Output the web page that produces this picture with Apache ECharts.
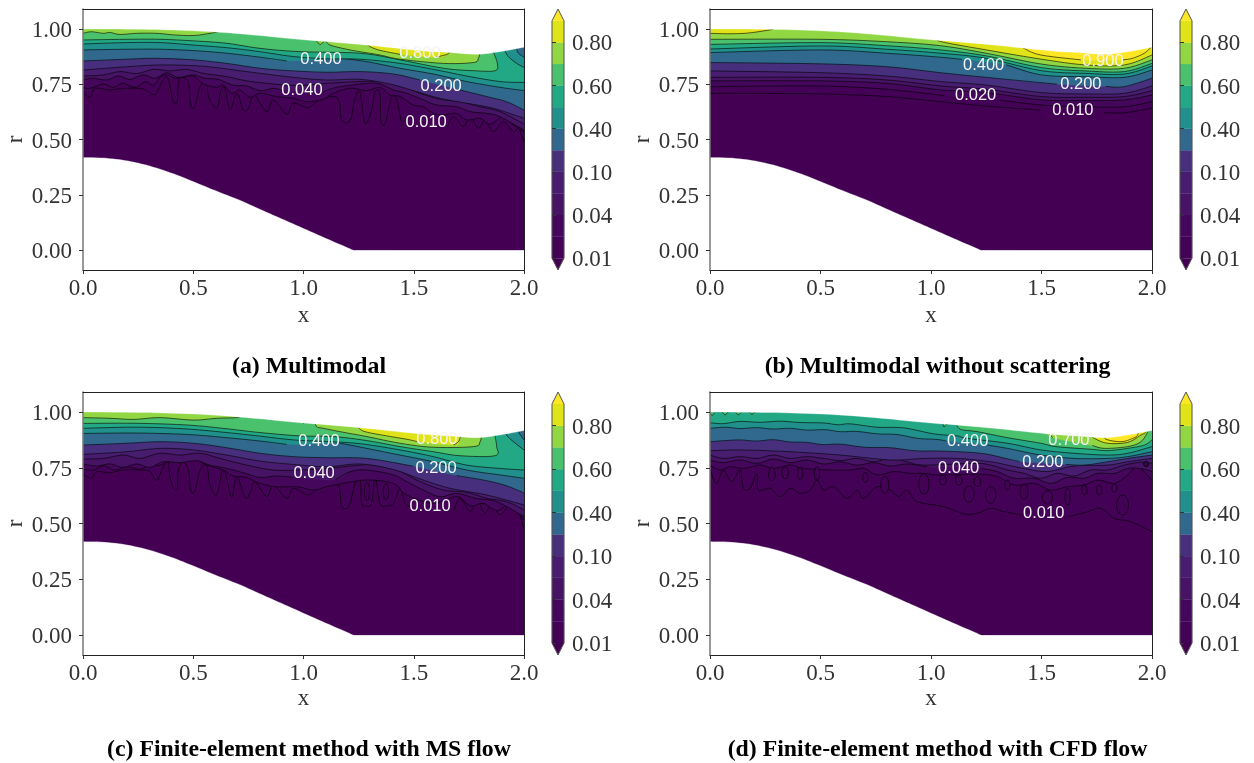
<!DOCTYPE html>
<html><head><meta charset="utf-8">
<script src="https://cdn.jsdelivr.net/npm/echarts@6/dist/echarts.min.js"></script>
<style>html,body{margin:0;background:#fff}#c{width:1254px;height:763px}</style></head>
<body><div id="c"></div>
<script>
// Filled-contour colours, one per band between levels (viridis sampled)
const levels = [0.01,0.02,0.04,0.07,0.10,0.20,0.40,0.50,0.60,0.70,0.80,0.90];
const underColor = '#440154';
const bandColors = ['#440256','#45075b','#471365','#481c6e','#472f7d','#31688e','#21908c','#22a884','#4ac16d','#90d743','#dfe318','#fde725'];
const cbTickPos = [0,2,4,6,8,10];
const cbTickLabels = ['0.01','0.04','0.10','0.40','0.60','0.80'];
const rTicks = [0,0.25,0.5,0.75,1];
const captions = ['(a) Multimodal','(b) Multimodal without scattering','(c) Finite-element method with MS flow','(d) Finite-element method with CFD flow'];

// Domain walls (x, r)
const wallTop = [[0,1],[.2,.999],[.4,.995],[.6,.986],[.8,.97],[.95,.955],[1.1,.943],[1.256,.93],[1.4,.915],[1.55,.90],[1.664,.893],[1.787,.885],[1.89,.897],[2,.917]];
const wallBottom = [[0,.42],[.1,.417],[.2,.405],[.3,.382],[.4,.35],[.485,.317],[.6,.27],[.712,.226],[.8,.187],[.9,.143],[1,.099],[1.1,.055],[1.2,.012],[1.225,.001],[1.25,0],[1.4,0],[2,0]];

// Panel (a) contours: level index -> (x, r) points, null = gap beside a label
const a_L0 = [[0,.716],[.032,.691],[.054,.731],[.122,.724],[.183,.731],[.259,.731],[.296,.716],[.327,.704],[.364,.769],[.383,.781],[.395,.739],[.410,.671],[.428,.674],[.432,.754],[.448,.784],[.478,.754],[.488,.656],[.508,.651],[.531,.739],[.561,.754],[.569,.694],[.606,.641],[.626,.724],[.644,.731],[.667,.633],[.697,.709],[.727,.633],[.750,.641],[.776,.701],[.833,.626],[.863,.679],[.924,.615],[.954,.664],[1.022,.645],[1.075,.682],[1.136,.694],[1.163,.671],[1.173,.588],[1.211,.585],[1.234,.686],[1.256,.716],[1.279,.573],[1.309,.633],[1.325,.716],[1.347,.709],[1.350,.588],[1.370,.573],[1.400,.694],[1.423,.679],[1.445,.581],[1.468,.603],null,[1.650,.550],[1.680,.603],[1.725,.558],[1.756,.603],[1.793,.550],[1.823,.588],[1.861,.535],[1.906,.581],[1.952,.535],[1.975,.550],[2,.490]];
const a_L1 = [[0,.736],[.032,.731],[.092,.751],[.137,.736],[.183,.754],[.236,.736],[.282,.761],[.319,.746],[.349,.781],[.380,.792],[.417,.777],[.455,.781],[.500,.787],[.546,.751],[.606,.736],[.636,.746],[.674,.709],[.712,.724],[.757,.691],[.803,.709],[.878,.694],[.954,.686],[1.015,.671],[1.090,.682],[1.136,.709],[1.211,.732],[1.287,.721],[1.347,.736],[1.392,.701],[1.438,.694],[1.498,.656],[1.544,.648],[1.589,.618],[1.635,.611],[1.695,.618],[1.740,.588],[1.801,.596],[1.846,.570],[1.906,.603],[1.952,.566],[2,.535]];
const a_L2 = [[0,.769],[.047,.777],[.107,.769],[.160,.787],[.213,.772],[.274,.792],[.325,.777],[.380,.802],[.432,.781],[.500,.792],[.552,.777],[.612,.772],[.680,.746],[.742,.742],[.803,.721],[.863,.731],[.909,.721],null,[1.090,.716],[1.151,.736],[1.287,.754],[1.347,.751],[1.408,.724],[1.468,.709],[1.544,.679],[1.605,.656],[1.695,.648],[1.756,.626],[1.831,.618],[1.891,.603],[2,.543]];
const a_L3 = [[0,.787],[.092,.792],[.168,.807],[.243,.798],[.319,.817],[.395,.810],[.470,.817],[.546,.799],[.652,.784],[.742,.765],[.833,.754],[.924,.746],[1.015,.746],[1.105,.754],[1.256,.762],[1.363,.762],[1.438,.746],[1.528,.709],[1.620,.682],[1.710,.671],[1.801,.648],[1.891,.626],[2,.570]];
const a_L4 = [[0,.814],[.198,.829],[.349,.837],[.500,.834],[.606,.825],[.742,.807],[.954,.781],[1.105,.769],[1.256,.772],[1.392,.751],[1.498,.721],[1.620,.686],[1.740,.664],[1.861,.641],[2,.596]];
const a_L5 = [[0,.855],[.198,.863],[.334,.867],[.500,.860],[.652,.844],[.803,.822],[.939,.811],[1.105,.804],[1.257,.807],[1.408,.796],[1.528,.769],null,[1.710,.724],[1.831,.694],[1.921,.671],[2,.633]];
const a_L6 = [[0,.905],[.198,.908],[.349,.908],[.500,.902],[.652,.890],[.803,.872],[.924,.855],null,[1.173,.867],[1.287,.852],[1.438,.822],[1.589,.796],[1.740,.762],[1.891,.736],[2,.721]];
const a_L7 = [[0,.932],[.198,.938],[.349,.938],[.500,.927],[.652,.915],[.803,.897],[.954,.875],[1.105,.865],[1.257,.863],[1.438,.844],[1.620,.811],[1.740,.787],[1.891,.762],[2,.758]];
const a_L8 = [[0,.950],[.198,.953],[.349,.953],[.500,.946],[.652,.935],[.803,.912],[.984,.897],[1.257,.890],[1.438,.860],[1.635,.822],[1.771,.811],[1.869,.811],[1.879,.844],[1.861,.897],[1.853,.93]];
const a_L9a = [[0,.980],[.038,.987],[.092,.980],[.122,.984],[.168,.975],[.243,.980],[.334,.980],[.410,.973],[.500,.970],[.576,.980],[.633,.992]];
const a_L9b = [[1.058,.96],[1.062,.942],[1.078,.930],[1.098,.947],[1.120,.927],[1.196,.908],[1.256,.897],[1.347,.882],[1.438,.863],[1.635,.844],[1.771,.848],[1.793,.867],[1.801,.897],[1.803,.93]];
const a_L10 = [[1.279,.94],[1.300,.921],[1.347,.903],[1.438,.885],null,[1.60,.872],[1.650,.885],[1.668,.90]];
const a_C5 = [[1.910,.908],[1.929,.875],[1.967,.844],[2,.826]];
const a_C4 = [[1.967,.908],[1.975,.890],[2,.872]];
const a_labels = [[1.079,.864,'0.400'],[.993,.724,'0.040'],[1.528,.891,'0.800'],[1.624,.738,'0.200'],[1.556,.579,'0.010']];

// Panel (b) contours
const b_L0 = [[0,.709],[.5,.706],[.8,.694],[1.043,.671],[1.25,.651],[1.497,.633],null,[1.784,.621],[1.875,.621],[2,.641]];
const b_L1 = [[0,.739],[.5,.742],[.8,.727],[1.06,.699],null,[1.31,.678],[1.5,.656],[1.7,.648],[1.875,.648],[2,.671]];
const b_L2 = [[0,.765],[.5,.765],[.8,.754],[1.043,.724],[1.25,.712],[1.5,.679],[1.7,.676],[1.875,.679],[2,.701]];
const b_L3 = [[0,.781],[.5,.781],[.8,.769],[1.043,.742],[1.25,.727],[1.5,.694],[1.7,.691],[1.875,.694],[2,.721]];
const b_L4 = [[0,.810],[.5,.802],[.8,.787],[1.043,.762],[1.25,.746],[1.5,.712],[1.7,.706],[1.875,.709],[2,.742]];
const b_L5 = [[0,.848],[.5,.842],[.8,.829],[1.043,.802],[1.25,.781],[1.57,.75],null,[1.79,.74],[1.875,.739],[2,.777]];
const b_L6 = [[0,.893],[.5,.905],[.8,.890],[1.043,.872],[1.14,.862],null,[1.34,.838],[1.5,.792],[1.7,.784],[1.875,.781],[2,.814]];
const b_L7 = [[0,.909],[.5,.923],[.8,.908],[1.043,.890],[1.25,.867],[1.5,.811],[1.7,.799],[1.875,.796],[2,.832]];
const b_L8 = [[0,.930],[.5,.938],[.8,.924],[1.043,.905],[1.25,.878],[1.5,.825],[1.7,.810],[1.875,.807],[2,.844]];
const b_L9 = [[0,.953],[.5,.953],[.8,.942],[1.043,.924],[1.25,.890],[1.5,.841],[1.7,.822],[1.875,.822],[2,.860]];
const b_L10a = [[0,.98],[.09,.978],[.18,.982],[.286,.998]];
const b_L10b = [[1.035,.96],[1.043,.943],[1.25,.905],[1.5,.863],[1.7,.837],[1.875,.837],[2,.882]];
const b_L11 = [[1.40,.93],[1.421,.912],[1.497,.882],[1.678,.860],null,[1.867,.860],[1.912,.867],[1.965,.890],[1.995,.917],[1.995,.93]];
const b_labels = [[1.238,.837,'0.400'],[1.202,.697,'0.020'],[1.778,.855,'0.900'],[1.678,.747,'0.200'],[1.642,.633,'0.010']];

// Panel (c) contours
const c_L0 = [[0,.72],[.039,.703],[.062,.733],[.122,.728],[.183,.740],[.259,.740],[.304,.733],[.334,.692],[.357,.740],[.383,.782],[.395,.707],[.410,.658],[.428,.658],[.432,.740],[.452,.777],[.478,.740],[.488,.650],[.508,.646],[.531,.740],[.561,.762],[.576,.673],[.606,.628],[.629,.725],[.644,.733],[.674,.617],[.697,.710],[.735,.617],[.757,.635],[.780,.688],[.833,.620],[.863,.673],[.924,.613],[.954,.658],[1.022,.628],[1.075,.665],[1.136,.695],[1.163,.658],[1.173,.576],[1.206,.579],[1.236,.688],[1.257,.703],[1.264,.590],[1.279,.579],[1.309,.590],[1.325,.713],[1.347,.590],[1.378,.579],[1.408,.590],[1.438,.658],[1.461,.590],[1.484,.576],null,[1.680,.553],[1.710,.613],[1.756,.553],[1.786,.606],[1.823,.546],[1.854,.591],[1.891,.538],[1.936,.583],[1.975,.546],[2,.479]];
const c_L1 = [[0,.743],[.047,.740],[.092,.758],[.145,.740],[.198,.755],[.259,.743],[.304,.762],[.349,.762],[.410,.785],[.500,.792],[.561,.762],[.636,.740],[.682,.713],[.742,.707],[.803,.680],[.878,.665],[.969,.665],[1.045,.650],[1.105,.665],[1.181,.680],[1.287,.695],[1.408,.680],[1.468,.628],[1.589,.591],[1.695,.621],[1.756,.580],[1.816,.590],[1.876,.558],[1.936,.583],[2,.516]];
const c_L2 = [[0,.767],[.062,.758],[.122,.767],[.183,.752],[.243,.767],[.304,.752],[.364,.777],[.440,.773],[.516,.782],[.576,.762],[.652,.747],[.727,.728],[.803,.707],[.878,.713],[.954,.707],null,[1.143,.695],[1.211,.732],[1.287,.740],[1.408,.718],[1.468,.688],[1.544,.650],[1.620,.620],[1.695,.635],[1.786,.612],[1.876,.598],[2,.531]];
const c_L3 = [[0,.789],[.092,.792],[.183,.807],[.259,.792],[.349,.815],[.440,.807],[.531,.815],[.621,.792],[.742,.762],[.863,.740],[.984,.740],[1.105,.747],[1.257,.762],[1.317,.762],[1.423,.740],[1.528,.688],[1.635,.650],[1.740,.640],[1.831,.613],[1.921,.598],[2,.561]];
const c_L4 = [[0,.810],[.198,.822],[.349,.837],[.500,.830],[.652,.807],[.803,.780],[.954,.765],[1.105,.755],[1.257,.767],[1.408,.742],[1.528,.700],[1.664,.658],[1.831,.628],[2,.583]];
const c_L5 = [[0,.852],[.198,.860],[.349,.867],[.500,.860],[.652,.840],[.803,.815],[.954,.800],[1.105,.795],[1.287,.792],[1.498,.757],null,[1.695,.715],[1.831,.692],[1.921,.669],[2,.637]];
const c_L6 = [[0,.904],[.198,.906],[.349,.904],[.500,.898],[.652,.885],[.803,.870],[.924,.855],null,[1.160,.860],[1.211,.852],[1.438,.807],[1.589,.777],[1.740,.740],[1.891,.718],[2,.703]];
const c_L7 = [[0,.927],[.198,.932],[.349,.930],[.500,.922],[.652,.908],[.803,.892],[.954,.875],[1.105,.868],[1.257,.858],[1.438,.830],[1.589,.800],[1.740,.762],[1.891,.747],[2,.740]];
const c_L8 = [[0,.949],[.198,.950],[.349,.947],[.500,.940],[.652,.925],[.803,.908],[.984,.893],[1.136,.890],[1.287,.872],[1.438,.845],[1.589,.822],[1.710,.804],[1.869,.804],[1.876,.845],[1.869,.890],[1.862,.93]];
const c_L9a = [[0,.975],[.122,.972],[.229,.967],[.349,.975],[.500,.964],[.606,.972],[.705,.976],[.71,.99]];
const c_L9b = [[1.050,.96],[1.060,.934],[1.090,.927],[1.166,.912],[1.287,.890],[1.438,.860],[1.589,.842],[1.771,.845],[1.801,.867],[1.811,.92]];
const c_L9c = [[.99,.965],[1.0,.950],[1.015,.965]];
const c_L10 = [[1.24,.95],[1.249,.931],[1.279,.912],[1.378,.893],[1.468,.878],[1.514,.868],null,[1.680,.852],[1.705,.87],[1.715,.91]];
const c_C5 = [[1.915,.93],[1.921,.897],[1.952,.867],[2,.830]];
const c_C4 = [[1.97,.94],[1.975,.912],[2,.875]];
const c_islands = [[1.288,.643,.012,.04],[1.374,.643,.012,.035]];
const c_labels = [[1.07,.87,'0.400'],[1.048,.726,'0.040'],[1.605,.879,'0.800'],[1.601,.749,'0.200'],[1.574,.578,'0.010']];

// Panel (d) contours
const d_L0 = [[0,.740],[.030,.680],[.060,.740],[.098,.688],[.136,.740],[.151,.658],[.181,.658],[.212,.725],[.219,.650],[.272,.658],[.318,.620],[.363,.658],[.408,.635],[.454,.650],[.484,.695],[.514,.650],[.559,.665],[.620,.613],[.665,.650],[.696,.613],[.756,.665],[.816,.650],[.854,.620],[.892,.650],[.937,.598],[1.058,.576],[1.149,.543],[1.210,.546],[1.270,.568],[1.331,.553],[1.414,.538],null,[1.625,.531],[1.709,.553],[1.769,.568],[1.830,.523],[1.905,.508],[2,.463]];
const d_L1 = [[0,.762],[.045,.740],[.091,.755],[.151,.747],[.227,.762],[.287,.747],[.363,.762],[.423,.747],[.544,.740],[.635,.740],[.696,.747],[.756,.718],[.832,.733],[.907,.725],[.968,.725],[1.043,.718],[1.270,.718],[1.376,.673],[1.467,.680],[1.542,.650],[1.618,.665],[1.694,.673],[1.754,.695],[1.830,.680],[1.890,.718],[1.935,.755],[2,.695]];
const d_L2 = [[0,.785],[.060,.773],[.136,.785],[.212,.770],[.287,.789],[.363,.773],[.438,.785],[.514,.767],[.590,.777],[.665,.762],[.741,.773],[.816,.758],[.892,.767],[.983,.755],null,[1.225,.747],[1.300,.733],[1.376,.703],[1.467,.703],[1.542,.680],[1.618,.707],[1.694,.703],[1.754,.725],[1.830,.725],[1.890,.747],[1.950,.747],[2,.733]];
const d_L3 = [[0,.807],[.060,.792],[.136,.800],[.212,.792],[.287,.807],[.363,.792],[.438,.800],[.514,.792],[.590,.782],[.665,.792],[.741,.777],[.816,.792],[.892,.777],[.968,.762],[1.195,.770],[1.270,.762],[1.346,.740],[1.421,.725],[1.497,.703],[1.572,.725],[1.648,.713],[1.724,.740],[1.799,.740],[1.875,.762],[1.950,.775],[2,.770]];
const d_L4 = [[0,.826],[.136,.830],[.363,.822],[.590,.807],[.816,.785],[.968,.792],[1.119,.792],[1.270,.777],[1.346,.762],[1.421,.747],[1.527,.733],[1.648,.758],[1.799,.762],[1.890,.777],[2,.792]];
const d_L5 = [[0,.867],[.07,.872],[.136,.875],[.21,.870],[.287,.876],[.36,.866],[.438,.864],[.51,.854],[.590,.856],[.70,.842],[.816,.840],[.93,.826],[1.043,.825],[1.225,.815],[1.346,.790],[1.40,.778],null,[1.61,.765],[1.694,.762],[1.799,.777],[1.890,.792],[2,.807]];
const d_L6 = [[0,.927],[.07,.932],[.136,.926],[.21,.930],[.285,.924],[.363,.927],[.44,.919],[.52,.921],[.59,.912],[.665,.913],[.76,.902],[.847,.899],[.94,.882],[1.028,.877],[1.07,.87],null,[1.255,.852],[1.346,.837],[1.497,.807],[1.648,.792],[1.799,.792],[1.890,.800],[2,.822]];
const d_L7 = [[0,.952],[.060,.948],[.136,.958],[.227,.954],[.318,.959],[.408,.953],[.514,.951],[.580,.943],[.635,.947],[.756,.932],[.877,.929],[1.013,.902],[1.119,.893],[1.164,.882],[1.346,.860],[1.497,.830],[1.648,.815],[1.799,.807],[1.890,.815],[2,.845]];
const d_L8 = [[1.05,.965],[1.058,.934],[1.070,.945],[1.089,.949],[1.111,.949],[1.134,.922],[1.210,.912],[1.346,.885],[1.497,.860],[1.565,.845],[1.724,.833],[1.799,.827],[1.890,.837],[1.966,.852],[2,.875]];
const d_B1 = [[.0,.997],[.01,.985],[.02,.997]];
const d_B2 = [[.055,1.0],[.068,.988],[.082,1.0]];
const d_B3 = [[.115,1.0],[.128,.988],[.142,1.0]];
const d_B4 = [[.178,1.0],[.19,.99],[.202,1.0]];
const d_L9 = [[1.527,.915],[1.55,.885],null,[1.73,.85],[1.785,.837],[1.890,.845],[1.950,.867],[1.981,.912],[1.985,.93]];
const d_L10 = [[1.72,.90],[1.739,.882],[1.799,.860],[1.890,.864],[1.950,.897],[1.969,.907],[1.972,.93]];
const d_L11 = [[1.785,.90],[1.792,.878],[1.860,.867],[1.913,.882],[1.935,.897],[1.94,.93]];
const d_islands = [[.280,.722,.015,.03],[.340,.728,.015,.027],[.408,.725,.012,.027],[.484,.725,.012,.03],[.703,.707,.012,.022],[.791,.673,.018,.037],[.968,.677,.023,.045],[1.054,.695,.015,.022],[1.126,.695,.015,.022],[1.172,.632,.023,.037],[1.21,.688,.015,.022],[1.27,.628,.023,.037],[1.346,.673,.012,.022],[1.421,.643,.018,.033],[1.527,.617,.023,.03],[1.618,.620,.012,.037],[1.694,.650,.012,.022],[1.761,.650,.012,.022],[1.83,.658,.012,.018],[1.867,.583,.027,.045]];
const d_blob = [[1.973,.767,.012,.012]];
const d_labels = [[1.166,.87,'0.400'],[1.125,.749,'0.040'],[1.624,.874,'0.700'],[1.506,.776,'0.200'],[1.51,.547,'0.010']];

// Painting order inside each panel: [points, fill band]
const panels = [
 {curves:[[a_L0,0],[a_L1,1],[a_L2,2],[a_L3,3],[a_L4,4],[a_L5,5],[a_L6,6],[a_L7,7],[a_L8,8],[a_L9a,9],[a_L9b,9],[a_L10,10],[a_C5,6],[a_C4,5]],islands:[],labels:a_labels},
 {curves:[[b_L0,0],[b_L1,1],[b_L2,2],[b_L3,3],[b_L4,4],[b_L5,5],[b_L6,6],[b_L7,7],[b_L8,8],[b_L9,9],[b_L10a,10],[b_L10b,10],[b_L11,11]],islands:[],labels:b_labels},
 {curves:[[c_L0,0],[c_L1,1],[c_L2,2],[c_L3,3],[c_L4,4],[c_L5,5],[c_L6,6],[c_L7,7],[c_L8,8],[c_L9a,9],[c_L9b,9],[c_L9c,9],[c_L10,10],[c_C5,6],[c_C4,5]],islands:c_islands,labels:c_labels},
 {curves:[[d_L0,0],[d_L1,1],[d_L2,2],[d_L3,3],[d_L4,4],[d_L5,5],[d_L6,6],[d_L7,7],[d_B1,8],[d_B2,8],[d_B3,8],[d_B4,8],[d_L8,8],[d_L9,9],[d_L10,10],[d_L11,11]],islands:d_islands,blob:d_blob,labels:d_labels}
];

const boxes = [
 {l:83,t:9,w:441,h:261,cb:552,nameGap:34},{l:710,t:9,w:442,h:261,cb:1180,nameGap:34},
 {l:83,t:392,w:441,h:263,cb:552,nameGap:32},{l:710,t:392,w:442,h:263,cb:1180,nameGap:32}
];
const captionPos = [[304,350],[932.5,350],[304,733],[932.5,733]];
const serif = '"Liberation Serif", serif';
const tickFont = {fontFamily:serif,fontSize:23,color:'#333'};
const sideLabel = {verticalAlign:'top',lineHeight:4};
const lineColor = 'rgba(0,0,0,0.72)';

// Curve tracing through the read points, in pixel space
function spline(p){
  if(p.length<3) return p;
  const o=[];
  for(let i=0;i<p.length-1;i++){
    const a=p[Math.max(i-1,0)],b=p[i],c=p[i+1],d=p[Math.min(i+2,p.length-1)];
    for(let k=0;k<6;k++){
      const t=k/6,t2=t*t,t3=t2*t;
      o.push([0,1].map(j=>.5*(2*b[j]+(c[j]-a[j])*t+(2*a[j]-5*b[j]+4*c[j]-d[j])*t2+(3*b[j]-3*c[j]+d[j]-a[j])*t3)));
    }
  }
  o.push(p[p.length-1]);
  return o;
}
function curveSeries(p,pts,fill,opt){
  opt=opt||{};
  const solid=pts.filter(Boolean);
  return {type:'custom',xAxisIndex:p,yAxisIndex:p,clip:true,silent:true,z:3,
    encode:{x:0,y:1},data:solid,
    renderItem(params,api){
      if(params.dataIndex) return null;
      const first=solid[0],last=solid[solid.length-1];
      const edge=opt.edge===undefined?1.3:opt.edge;
      const line=spline(solid.map(q=>api.coord(q)));
      const poly=line.concat([api.coord([last[0],edge]),api.coord([first[0],edge])]);
      const kids=[{type:'polygon',shape:{points:poly},style:{fill,stroke:fill,lineWidth:.3}}];
      if(!opt.noLine){
        let run=[];
        const flush=()=>{ if(run.length>1) kids.push({type:'polyline',shape:{points:spline(run.map(q=>api.coord(q)))},style:{fill:null,stroke:lineColor,lineWidth:.85}}); run=[]; };
        pts.forEach(q=>{ if(q) run.push(q); else flush(); });
        flush();
      }
      return {type:'group',children:kids};
    }};
}
function islandSeries(p,list,fill,stroke){
  return {type:'custom',xAxisIndex:p,yAxisIndex:p,clip:true,silent:true,z:3,
    encode:{x:0,y:1},data:list,
    renderItem(params,api){
      const v=list[params.dataIndex],c=api.coord([v[0],v[1]]),s=api.size([v[2],v[3]]);
      return {type:'ellipse',shape:{cx:c[0],cy:c[1],rx:s[0],ry:s[1]},style:{fill,stroke,lineWidth:.85}};
    }};
}
function labelSeries(p,list){
  return {type:'custom',xAxisIndex:p,yAxisIndex:p,clip:true,silent:true,z:4,
    encode:{x:0,y:1},data:list.map(v=>[v[0],v[1]]),
    renderItem(params,api){
      const v=list[params.dataIndex],c=api.coord([v[0],v[1]]);
      return {type:'text',x:c[0],y:c[1],style:{text:v[2],fill:'#f4f4f4',font:'16.5px "Liberation Sans", sans-serif',align:'center',verticalAlign:'middle'}};
    }};
}
function colorbarSeries(i){
  const idx=4+i, bands=bandColors.slice(0,11).map((c,k)=>[k,k+1]);
  return [
   {type:'custom',xAxisIndex:idx,yAxisIndex:idx,silent:true,z:3,clip:false,encode:{y:0},data:bands,
    renderItem(params,api){
      const k=params.dataIndex,a=api.coord([0,k]),b=api.coord([1,k+1]);
      return {type:'rect',shape:{x:a[0],y:b[1],width:b[0]-a[0],height:a[1]-b[1]},style:{fill:bandColors[k],stroke:bandColors[k],lineWidth:.3}};
    }},
   {type:'custom',xAxisIndex:idx,yAxisIndex:idx,silent:true,z:4,clip:false,encode:{y:0},data:[[0]],
    renderItem(params,api){
      const P=(x,y)=>api.coord([x,y]);
      return {type:'group',children:[
        {type:'polygon',shape:{points:[P(0,0),P(.5,-.55),P(1,0)]},style:{fill:underColor}},
        {type:'polygon',shape:{points:[P(0,11),P(.5,11.55),P(1,11)]},style:{fill:bandColors[11]}},
        {type:'polygon',shape:{points:[P(0,0),P(.5,-.55),P(1,0),P(1,11),P(.5,11.55),P(0,11)]},style:{fill:null,stroke:'#555',lineWidth:1}}
      ]};
    }}
  ];
}

const grid=[],xAxis=[],yAxis=[],series=[],title=[];
boxes.forEach(b=>grid.push({left:b.l,top:b.t,width:b.w,height:b.h}));
boxes.forEach(b=>grid.push({left:b.cb,top:b.t,width:12,height:b.h}));
const hiddenAxis={axisTick:{show:false},axisLabel:{show:false},splitLine:{show:false}};
boxes.forEach((b,i)=>{
  xAxis.push({type:'value',gridIndex:i,min:0,max:2,interval:.5,z:10,position:'bottom',
    name:'x',nameLocation:'middle',nameGap:b.nameGap,nameTextStyle:{fontFamily:serif,fontSize:23,color:'#333'},
    axisLine:{onZero:false,lineStyle:{color:'#222',width:1}},axisTick:{length:4,lineStyle:{color:'#333'}},
    axisLabel:Object.assign({margin:7,formatter:v=>v.toFixed(1)},tickFont),splitLine:{show:false}});
  yAxis.push({type:'value',gridIndex:i,min:-.09,max:1.09,z:10,position:'left',
    name:'r',nameLocation:'middle',nameGap:56,nameRotate:90,nameTextStyle:{fontFamily:serif,fontSize:23,color:'#333'},
    axisLine:{onZero:false,lineStyle:{color:'#777',width:1.5}},
    axisTick:{length:4,customValues:rTicks,lineStyle:{color:'#333'}},
    axisLabel:Object.assign({margin:11,customValues:rTicks,formatter:v=>v.toFixed(2)},tickFont,sideLabel),splitLine:{show:false}});
});
boxes.forEach((b,i)=>{
  xAxis.push(Object.assign({type:'value',gridIndex:4+i,min:0,max:1,show:false},hiddenAxis));
  yAxis.push({type:'value',gridIndex:4+i,min:-.55,max:11.55,position:'right',z:10,
    axisLine:{show:false},axisTick:{length:4,customValues:cbTickPos,lineStyle:{color:'#333'}},
    axisLabel:Object.assign({margin:8,customValues:cbTickPos,formatter:v=>cbTickLabels[cbTickPos.indexOf(v)]},tickFont,sideLabel),splitLine:{show:false}});
});
boxes.forEach((b,i)=>{
  xAxis.push(Object.assign({type:'value',gridIndex:i,min:0,max:2,position:'top',z:10,axisLine:{show:true,onZero:false,lineStyle:{color:'#222',width:1}}},hiddenAxis));
  yAxis.push(Object.assign({type:'value',gridIndex:i,min:-.09,max:1.09,position:'right',z:10,axisLine:{show:true,onZero:false,lineStyle:{color:'#222',width:1}}},hiddenAxis));
});
panels.forEach((pn,p)=>{
  series.push(curveSeries(p,wallBottom,underColor,{noLine:true}));
  pn.curves.forEach(c=>series.push(curveSeries(p,c[0],bandColors[c[1]])));
  if(pn.islands.length) series.push(islandSeries(p,pn.islands,bandColors[0],lineColor));
  if(pn.blob) series.push(islandSeries(p,pn.blob,'#2c0a3c',lineColor));
  series.push(curveSeries(p,wallTop,'#ffffff',{noLine:true}));
  series.push(labelSeries(p,pn.labels));
  colorbarSeries(p).forEach(s=>series.push(s));
  title.push({text:captions[p],left:captionPos[p][0],top:captionPos[p][1],textAlign:'center',
    textStyle:{fontFamily:serif,fontSize:23.8,fontWeight:'bold',color:'#000'}});
});
const chart=echarts.init(document.getElementById('c'),null,{renderer:'canvas',width:1254,height:763});
chart.setOption({animation:false,backgroundColor:'#fff',title,grid,xAxis,yAxis,series});
</script></body></html>
